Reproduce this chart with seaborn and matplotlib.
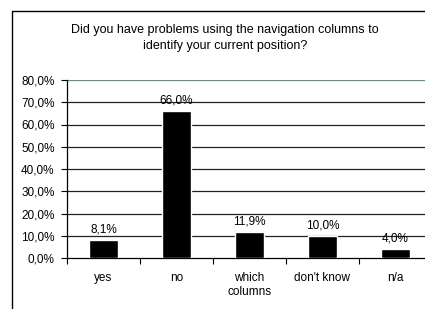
import seaborn as sns
import matplotlib.pyplot as plt
from matplotlib.patches import Rectangle

categories = ["yes", "no", "which\ncolumns", "don't know", "n/a"]
values = [8.1, 66.0, 11.9, 10.0, 4.0]
yticks = [0, 10, 20, 30, 40, 50, 60, 70, 80]

sns.set_style("white")
plt.rcParams["font.family"] = ["Liberation Sans", "DejaVu Sans"]
plt.rcParams["text.color"] = "black"
plt.rcParams["xtick.color"] = "black"
plt.rcParams["ytick.color"] = "black"
fs = 8.5

fig = plt.figure(figsize=(4.25, 3.09), dpi=100)
# chart frame (only left and top edges visible)
fig.patches.append(Rectangle((12 / 425, -0.1), 1.2, 1 - 11 / 309 + 0.1,
                             transform=fig.transFigure, fill=False,
                             edgecolor="black", linewidth=1.0))
ax = fig.add_axes([67 / 425, 1 - 258 / 309, 365 / 425, (258 - 80) / 309])

sns.barplot(x=categories, y=values, color="black", width=0.41, ax=ax,
            saturation=1, zorder=3)

ax.set_ylim(0, 80)
ax.set_yticks(yticks)
ax.set_yticklabels([f"{v:.1f}%".replace(".", ",") for v in yticks], fontsize=fs)
for v in yticks[1:-1]:
    ax.axhline(v, color="#222222", linewidth=0.9, zorder=1)
ax.axhline(80, color="#5f8f8f", linewidth=0.9, zorder=1)

for i, v in enumerate(values):
    ax.text(i, v + 2.0, f"{v:.1f}%".replace(".", ","), ha="center", va="bottom",
            fontsize=fs)

ax.set_xticks([i - 0.5 for i in range(len(categories) + 1)], minor=True)
ax.tick_params(axis="x", which="minor", length=4, width=0.8, direction="out", bottom=True)
ax.tick_params(axis="x", which="major", length=0, labelsize=fs, pad=10)
ax.tick_params(axis="y", length=4, width=0.8, direction="out", left=True, pad=5)
ax.set_xlim(-0.5, len(categories) - 0.5)

for s in ["top", "right"]:
    ax.spines[s].set_visible(False)
ax.spines["left"].set_color("black")
ax.spines["bottom"].set_color("black")
ax.spines["left"].set_linewidth(0.9)
ax.spines["bottom"].set_linewidth(0.9)

fig.text(225 / 425, 1 - 38 / 309,
         "Did you have problems using the navigation columns to\nidentify your current position?",
         ha="center", va="center", fontsize=9, linespacing=1.45)

fig.savefig("out.png", dpi=100)
